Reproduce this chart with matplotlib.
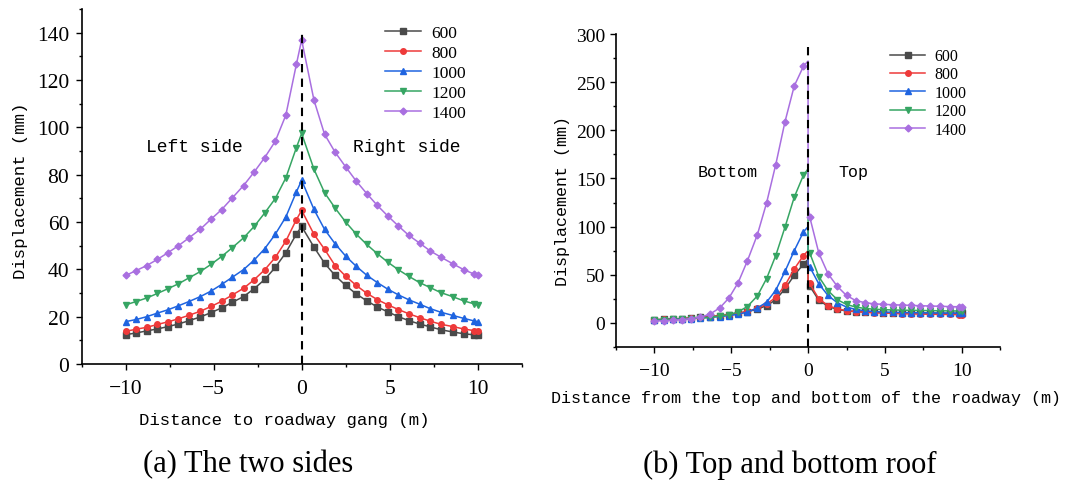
import matplotlib
matplotlib.use("Agg")
import matplotlib.pyplot as plt
from matplotlib.ticker import MultipleLocator

# ---- data -------------------------------------------------------------
depths = ["600", "800", "1000", "1200", "1400"]

# (a) the two sides
x_sides = [-10, -9.4, -8.8, -8.2, -7.6, -7.0, -6.4, -5.75, -5.15, -4.55, -3.95, -3.3, -2.7, -2.1, -1.5, -0.9, -0.3, 0,
           0.7, 1.3, 1.9, 2.5, 3.1, 3.7, 4.3, 4.9, 5.5, 6.1, 6.7, 7.3, 7.9, 8.6, 9.2, 9.8, 10]
sides_600 = [12.4, 13.1, 14.0, 14.8, 15.8, 16.9, 18.3, 19.9, 21.7, 23.7, 26.0, 28.5, 31.8, 35.7, 40.8, 47.0, 54.9, 58.1,
             49.4, 42.6, 37.4, 33.2, 29.6, 26.7, 24.1, 22.0, 20.0, 18.3, 16.9, 15.7, 14.5, 13.5, 12.8, 12.3, 12.3]
sides_800 = [13.8, 14.7, 15.5, 16.7, 17.8, 19.1, 20.6, 22.3, 24.3, 26.5, 29.1, 32.0, 35.6, 39.8, 45.0, 51.9, 61.0, 64.9,
             54.8, 48.5, 41.6, 37.1, 33.2, 29.9, 27.2, 25.0, 23.0, 21.2, 19.6, 18.1, 16.8, 15.8, 14.8, 14.1, 13.8]
sides_1000 = [17.9, 18.8, 20.0, 21.5, 22.9, 24.6, 26.4, 28.5, 30.8, 33.6, 36.6, 39.9, 43.9, 48.7, 54.8, 62.1, 72.7, 77.6,
              65.3, 56.9, 50.8, 45.6, 41.3, 37.5, 34.4, 31.6, 29.2, 27.1, 25.3, 23.4, 21.9, 20.5, 19.3, 18.2, 17.9]
sides_1200 = [25.0, 26.4, 27.9, 29.8, 31.8, 33.9, 36.4, 39.1, 42.1, 45.4, 49.1, 53.3, 58.1, 63.8, 69.9, 78.6, 91.4, 97.4,
              82.3, 72.4, 65.9, 60.0, 54.9, 50.5, 46.6, 43.0, 39.8, 37.0, 34.4, 32.3, 30.2, 28.4, 26.7, 25.4, 25.0]
sides_1400 = [37.4, 39.5, 41.6, 44.2, 47.0, 50.0, 53.3, 57.0, 61.2, 65.2, 70.1, 75.4, 81.1, 87.2, 94.1, 105.1, 126.6, 136.9,
              111.5, 97.1, 89.5, 83.3, 77.3, 72.0, 67.0, 62.5, 58.3, 54.3, 51.1, 47.8, 45.2, 42.3, 39.9, 38.0, 37.4]

# (b) top and bottom roof (two readings at x=0: end of bottom, start of top)
x_roof = [-10, -9.4, -8.8, -8.2, -7.6, -7.0, -6.4, -5.75, -5.15, -4.55, -3.95, -3.3, -2.7, -2.1, -1.5, -0.9, -0.3, 0,
          0, 0.1, 0.7, 1.3, 1.9, 2.5, 3.1, 3.7, 4.3, 4.9, 5.5, 6.1, 6.7, 7.3, 7.9, 8.6, 9.2, 9.8, 10]
roof_600 = [3.5, 3.8, 4.2, 4.6, 5.2, 5.8, 6.6, 7.5, 8.6, 10.0, 11.8, 14.2, 18.0, 24.0, 35.5, 49.5, 61.0, 66.0,
            42.0, 38.5, 23.5, 17.3, 14.0, 12.5, 11.8, 11.3, 11.0, 10.8, 10.6, 10.5, 10.4, 10.3, 10.2, 10.1, 10.0, 10.0, 10.0]
roof_800 = [3.3, 3.6, 4.0, 4.5, 5.0, 5.6, 6.4, 7.3, 8.5, 10.0, 12.0, 15.0, 19.5, 26.5, 39.0, 56.0, 70.0, 75.0,
            44.0, 41.0, 25.0, 18.0, 14.5, 12.8, 11.8, 11.1, 10.6, 10.2, 9.9, 9.6, 9.4, 9.2, 9.0, 8.9, 8.8, 8.7, 8.7]
roof_1000 = [3.2, 3.5, 3.8, 4.2, 4.6, 5.1, 5.8, 6.6, 7.6, 9.0, 11.2, 15.5, 21.5, 34.0, 53.5, 75.0, 94.5, 100.0,
             61.0, 58.5, 40.5, 28.5, 21.0, 16.5, 14.0, 12.6, 11.8, 11.3, 11.0, 10.8, 10.6, 10.5, 10.4, 10.3, 10.2, 10.2, 10.2]
roof_1200 = [3.0, 3.3, 3.6, 4.0, 4.5, 5.0, 5.8, 7.0, 8.5, 11.5, 17.0, 28.0, 46.0, 70.0, 99.5, 130.5, 153.5, 160.0,
             75.0, 73.0, 48.0, 33.5, 24.2, 19.2, 16.5, 15.0, 14.3, 13.8, 13.5, 13.3, 13.1, 12.9, 12.8, 12.6, 12.5, 12.4, 12.4]
roof_1400 = [2.0, 2.2, 2.8, 3.5, 4.5, 6.0, 9.0, 15.5, 25.8, 41.7, 64.3, 91.5, 124.5, 164.5, 209.0, 246.0, 266.5, 272.0,
             119.0, 110.5, 72.5, 51.0, 38.0, 28.5, 23.2, 21.1, 19.8, 19.3, 18.9, 18.6, 18.2, 17.9, 17.6, 17.3, 17.0, 16.8, 16.7]

# ---- style ------------------------------------------------------------
colors = ["#4a4a4a", "#ee3a3a", "#1f64e0", "#36a563", "#a96fe0"]
markers = ["s", "o", "^", "v", "D"]
label_font = "Liberation Mono"
num_font = "Liberation Serif"

fig = plt.figure(figsize=(10.71, 4.89), dpi=100)
ax1 = fig.add_axes([0.0763, 0.2536, 0.4107, 0.726])
ax2 = fig.add_axes([0.575, 0.2883, 0.359, 0.6401])


def style_axis(ax, tick_size, xpad, ypad):
    for side in ["top", "right"]:
        ax.spines[side].set_visible(False)
    for side in ["left", "bottom"]:
        ax.spines[side].set_linewidth(1.2)
    ax.tick_params(which="major", direction="out", length=4, width=1.0, labelsize=tick_size)
    ax.tick_params(which="minor", direction="out", length=2.5, width=1.0)
    ax.tick_params(axis="x", pad=xpad)
    ax.tick_params(axis="y", pad=ypad)
    for lab in ax.get_xticklabels() + ax.get_yticklabels():
        lab.set_fontfamily(num_font)


# (a)
sides = [sides_600, sides_800, sides_1000, sides_1200, sides_1400]
for vals, c, m, lab in zip(sides, colors, markers, depths):
    ax1.plot(x_sides, vals, color=c, marker=m, markersize=4 if m != "D" else 3.5,
             linewidth=1.1, label=lab)
ax1.plot([0, 0], [0, 141], color="black", linestyle="--", linewidth=1.5, dashes=(4, 3))
ax1.set_xlim(-12.5, 12.5)
ax1.set_ylim(0, 150)
ax1.xaxis.set_major_locator(MultipleLocator(5))
ax1.xaxis.set_minor_locator(MultipleLocator(2.5))
ax1.yaxis.set_major_locator(MultipleLocator(20))
ax1.yaxis.set_minor_locator(MultipleLocator(10))
style_axis(ax1, 15.5, 6.5, 5)
ax1.set_xlabel("Distance to roadway gang (m)", fontfamily=label_font, fontsize=12.5)
ax1.set_ylabel("Displacement (mm)", fontfamily=label_font, fontsize=12.5)
ax1.xaxis.set_label_coords(0.46, -0.135)
ax1.yaxis.set_label_coords(-0.122, 0.49)
ax1.text(-6.1, 92, "Left side", fontfamily=label_font, fontsize=13, ha="center", va="center")
ax1.text(6.0, 92, "Right side", fontfamily=label_font, fontsize=13, ha="center", va="center")
ax1.legend(loc="upper left", bbox_to_anchor=(0.689, 0.955), frameon=False,
           prop={"family": num_font, "size": 12.5}, handlelength=2.1,
           labelspacing=0.22, borderpad=0, borderaxespad=0, handletextpad=0.6)

# (b)
roof = [roof_600, roof_800, roof_1000, roof_1200, roof_1400]
marked = [i for i in range(len(x_roof)) if x_roof[i] != 0]
for vals, c, m, lab in zip(roof, colors, markers, depths):
    ax2.plot(x_roof, vals, color=c, marker=m, markersize=4 if m != "D" else 3.5,
             markevery=marked, linewidth=1.1, label=lab)
ax2.plot([0, 0], [-25, 291], color="black", linestyle="--", linewidth=1.5, dashes=(4, 3))
ax2.set_xlim(-12.5, 12.5)
ax2.set_ylim(-25, 300)
ax2.xaxis.set_major_locator(MultipleLocator(5))
ax2.xaxis.set_minor_locator(MultipleLocator(2.5))
ax2.yaxis.set_major_locator(MultipleLocator(50))
ax2.yaxis.set_minor_locator(MultipleLocator(25))
style_axis(ax2, 14, 7, 3.5)
ax2.set_xlabel("Distance from the top and bottom of the roadway (m)", fontfamily=label_font, fontsize=12)
ax2.set_ylabel("Displacement (mm)", fontfamily=label_font, fontsize=12)
ax2.xaxis.set_label_coords(0.494, -0.138)
ax2.yaxis.set_label_coords(-0.118, 0.47)
ax2.text(-5.2, 157, "Bottom", fontfamily=label_font, fontsize=12, ha="center", va="center")
ax2.text(2.95, 157, "Top", fontfamily=label_font, fontsize=12, ha="center", va="center")
ax2.legend(loc="upper left", bbox_to_anchor=(0.713, 0.955), frameon=False,
           prop={"family": num_font, "size": 11.5}, handlelength=2.2,
           labelspacing=0.15, borderpad=0, borderaxespad=0, handletextpad=0.6)

# captions
fig.text(248 / 1071, 1 - 465 / 489, "(a) The two sides", fontfamily=num_font, fontsize=22,
         ha="center", va="center")
fig.text(790 / 1071, 1 - 465 / 489, "(b) Top and bottom roof", fontfamily=num_font, fontsize=22,
         ha="center", va="center")

fig.savefig("out.png", dpi=100)
